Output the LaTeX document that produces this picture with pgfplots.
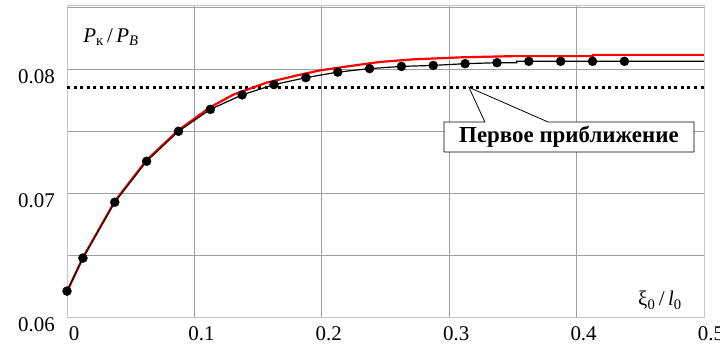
\documentclass[border=0pt]{standalone}
\usepackage{fontspec}
\setmainfont{Liberation Serif}
\usepackage{pgfplots}
\usepackage{pgfplotstable}
\pgfplotsset{compat=1.18}

\pgfplotstableread{
x y
0.0000 0.06209
0.0125 0.06476
0.0375 0.06927
0.0625 0.07258
0.0875 0.07500
0.1125 0.07677
0.1375 0.07794
0.1625 0.07877
0.1875 0.07933
0.2125 0.07978
0.2375 0.08006
0.2625 0.08024
0.2875 0.08032
0.3125 0.08046
0.3375 0.08054
0.3625 0.08065
0.3875 0.08065
0.4125 0.08065
0.4375 0.08065
}\dots

\pgfplotstableread{
x y
0.0000 0.06209
0.0125 0.06476
0.0375 0.06927
0.0625 0.07258
0.0875 0.07500
0.1125 0.07677
0.1375 0.07794
0.1625 0.07877
0.1875 0.07933
0.2125 0.07978
0.2375 0.08006
0.2625 0.08024
0.2875 0.08032
0.3125 0.08046
0.3375 0.08054
0.3530 0.08054
0.3530 0.08065
0.5000 0.08065
}\blackline

\pgfplotstableread{
x y
0.0000 0.06205
0.0125 0.06480
0.0375 0.06935
0.0625 0.07268
0.0875 0.07510
0.1125 0.07695
0.1305 0.07796
0.1567 0.07893
0.1829 0.07957
0.1986 0.07992
0.2221 0.08027
0.2457 0.08060
0.2716 0.08081
0.3085 0.08097
0.3500 0.08107
0.4129 0.08107
0.4129 0.08117
0.5000 0.08117
}\redline

\begin{document}
\fontsize{21}{25}\selectfont
\begin{tikzpicture}
\begin{axis}[
  at={(0,0)}, anchor=south west,
  scale only axis, width=637bp, height=312bp,
  xmin=0, xmax=0.5, ymin=0.06, ymax=0.0852,
  xtick={0,0.1,0.2,0.3,0.4,0.5},
  xticklabels={0,0.1,0.2,0.3,0.4,0.5},
  ytick={0.06,0.07,0.08},
  yticklabels={0.06,0.07,0.08},
  minor ytick={0.065,0.075,0.085},
  grid=both,
  major grid style={gray!75, line width=0.6bp},
  minor grid style={gray!75, line width=0.6bp},
  axis line style={gray!45, line width=0.8bp},
  major tick length=0pt, minor tick length=0pt,
  xticklabel style={anchor=north, inner sep=0pt, yshift=-9bp, xshift=7bp},
  yticklabel style={anchor=north east, inner sep=0pt, xshift=-12bp},
  /pgf/number format/assume math mode=true,
  clip=false,
]
\addplot[black, line width=3bp, dash pattern=on 3bp off 3.6bp] coordinates {(0,0.0785) (0.5,0.0785)};
\addplot[red, line width=2.2bp] table {\redline};
\addplot[black, line width=1.2bp] table {\blackline};
\addplot[only marks, mark=*, mark size=4.5bp, black] table {\dots};

\draw[black, line width=0.8bp, fill=white]
  (axis cs:0.2959,0.07575) -- (axis cs:0.328,0.07575) -- (axis cs:0.3155,0.07855)
  -- (axis cs:0.3776,0.07575) -- (axis cs:0.4922,0.07575) -- (axis cs:0.4922,0.07333)
  -- (axis cs:0.2959,0.07333) -- cycle;
\node[font=\fontsize{23}{27}\selectfont\bfseries] at (axis cs:0.394,0.07454) {Первое приближение};

\node[anchor=base west, inner sep=0pt] at (axis cs:0.0126,0.0822)
  {\textit{P}\textsubscript{к}\,/\,\textit{P}\textsubscript{\textit{B}}};
\node[anchor=base west, inner sep=0pt] at (axis cs:0.4482,0.06089)
  {ξ\textsubscript{0}\,/\,\textit{l}\textsubscript{0}};
\end{axis}
\pgfresetboundingbox
\path[use as bounding box] (-67bp,-27bp) rectangle (653bp,317bp);
\end{tikzpicture}
\end{document}
